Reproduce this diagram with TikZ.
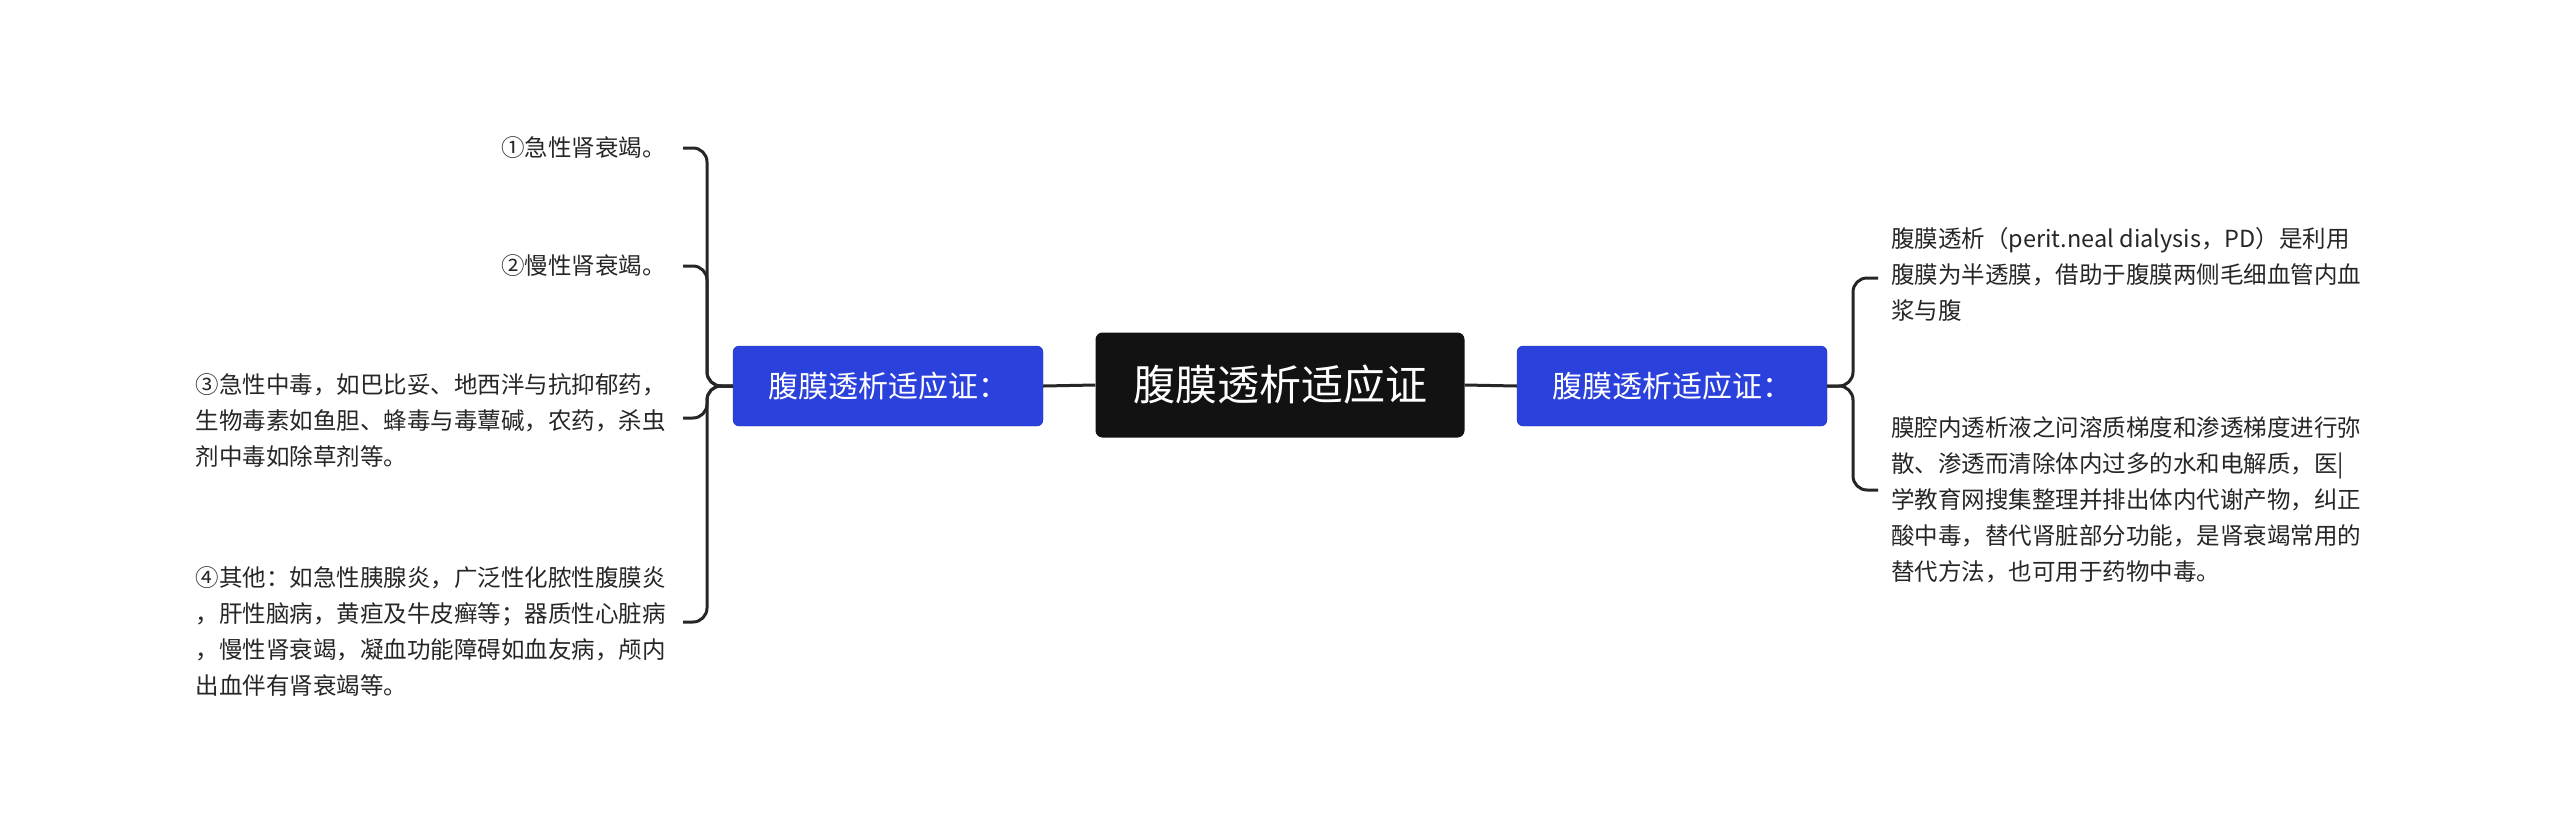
\documentclass[tikz,border=0pt]{standalone}
\usepackage{fontspec}
\setmainfont{Noto Sans CJK SC}
\begin{document}
\begin{tikzpicture}[x=1pt,y=-1pt,
  conn/.style={line width=3pt,black!85,rounded corners=14pt},
  sub/.style={fill=blue!75!cyan!60!black,fill=cbl,draw=cbl!80!black,rounded corners=6pt,text=white,font=\fontsize{30}{36}\selectfont,minimum width=310,minimum height=80,inner sep=0},
  leaf/.style={font=\fontsize{23.5}{36}\selectfont,text=black!85,inner sep=0}]
\definecolor{cbl}{HTML}{2B41DB}
\useasboundingbox (0,0) rectangle (2560,825);
\node[fill=black!93,rounded corners=7pt,text=white,font=\fontsize{42}{50}\selectfont,minimum width=369,minimum height=105,inner sep=0] (root) at (1280,385) {腹膜透析适应证};
\node[sub] (lb) at (888,386) {腹膜透析适应证：};
\node[sub] (rb) at (1672,386) {腹膜透析适应证：};
\draw[conn] (root.west) -- (lb.east);
\draw[conn] (root.east) -- (rb.east-|rb.west);
% left leaves
\node[leaf,anchor=east] (l1) at (666,148) {①急性肾衰竭。};
\node[leaf,anchor=east] (l2) at (666,266) {②慢性肾衰竭。};
\node[leaf,anchor=east,align=left] (l3) at (666,420) {③急性中毒，如巴比妥、地西泮与抗抑郁药，\\生物毒素如鱼胆、蜂毒与毒蕈碱，农药，杀虫\\剂中毒如除草剂等。};
\node[leaf,anchor=east,align=left] (l4) at (666,631) {④其他：如急性胰腺炎，广泛性化脓性腹膜炎\\，肝性脑病，黄疸及牛皮癣等；器质性心脏病\\，慢性肾衰竭，凝血功能障碍如血友病，颅内\\出血伴有肾衰竭等。};
\coordinate (lj) at (707,386);
\foreach \n/\y in {l1/148,l2/266,l3/418,l4/622}{
  \draw[conn] (lb.west) -- (lj) |- (683,\y);
}
% right leaves
\node[leaf,anchor=west,align=left] (r1) at (1891,274) {腹膜透析（perit.neal dialysis，PD）是利用\\腹膜为半透膜，借助于腹膜两侧毛细血管内血\\浆与腹};
\node[leaf,anchor=west,align=left] (r2) at (1891,500) {膜腔内透析液之问溶质梯度和渗透梯度进行弥\\散、渗透而清除体内过多的水和电解质，医|\\学教育网搜集整理并排出体内代谢产物，纠正\\酸中毒，替代肾脏部分功能，是肾衰竭常用的\\替代方法，也可用于药物中毒。};
\coordinate (rj) at (1853,386);
\foreach \y in {278,490}{
  \draw[conn] (rb.east) -- (rj) |- (1878,\y);
}
\end{tikzpicture}
\end{document}
